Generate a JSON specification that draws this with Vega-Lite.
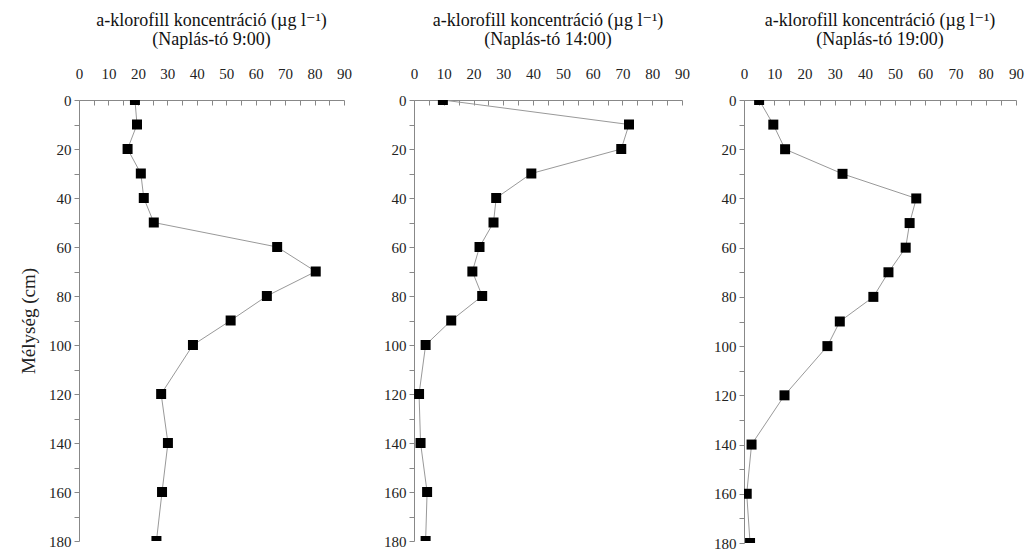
{
  "$schema": "https://vega.github.io/schema/vega-lite/v6.json",
  "background": "white",
  "padding": {"left": 19, "top": 12, "right": 5, "bottom": 5},
  "spacing": 70,
  "bounds": "flush",
  "datasets": {
    "p1": [
      {"depth": 0, "chl": 19}, {"depth": 10, "chl": 19.7}, {"depth": 20, "chl": 16.5},
      {"depth": 30, "chl": 21}, {"depth": 40, "chl": 22}, {"depth": 50, "chl": 25.4},
      {"depth": 60, "chl": 67.3}, {"depth": 70, "chl": 80.4}, {"depth": 80, "chl": 63.8},
      {"depth": 90, "chl": 51.5}, {"depth": 100, "chl": 38.7}, {"depth": 120, "chl": 27.9},
      {"depth": 140, "chl": 30.2}, {"depth": 160, "chl": 28.2}, {"depth": 180, "chl": 26.3}
    ],
    "p2": [
      {"depth": 0, "chl": 9.7}, {"depth": 10, "chl": 72.2}, {"depth": 20, "chl": 69.6},
      {"depth": 30, "chl": 39.4}, {"depth": 40, "chl": 27.6}, {"depth": 50, "chl": 26.7},
      {"depth": 60, "chl": 22}, {"depth": 70, "chl": 19.6}, {"depth": 80, "chl": 22.9},
      {"depth": 90, "chl": 12.5}, {"depth": 100, "chl": 3.9}, {"depth": 120, "chl": 1.7},
      {"depth": 140, "chl": 2.2}, {"depth": 160, "chl": 4.4}, {"depth": 180, "chl": 3.9}
    ],
    "p3": [
      {"depth": 0, "chl": 5}, {"depth": 10, "chl": 9.7}, {"depth": 20, "chl": 13.6},
      {"depth": 30, "chl": 32.6}, {"depth": 40, "chl": 57}, {"depth": 50, "chl": 54.8},
      {"depth": 60, "chl": 53.5}, {"depth": 70, "chl": 47.8}, {"depth": 80, "chl": 42.8},
      {"depth": 90, "chl": 31.7}, {"depth": 100, "chl": 27.6}, {"depth": 120, "chl": 13.4},
      {"depth": 140, "chl": 2.5}, {"depth": 160, "chl": 0.9}, {"depth": 180, "chl": 2}
    ]
  },
  "config": {
    "font": "Times New Roman, Liberation Serif, DejaVu Serif, serif",
    "view": {"stroke": null},
    "axis": {
      "grid": false,
      "domainColor": "#888888",
      "tickColor": "#888888",
      "labelColor": "#222222",
      "labelFont": "Times New Roman, Liberation Serif, DejaVu Serif, serif",
      "labelFontSize": 15,
      "titleFont": "Times New Roman, Liberation Serif, DejaVu Serif, serif",
      "titleFontWeight": "normal",
      "titleColor": "#222222"
    },
    "title": {
      "font": "Times New Roman, Liberation Serif, DejaVu Serif, serif",
      "fontSize": 18,
      "fontWeight": "normal",
      "color": "#111111",
      "anchor": "middle",
      "lineHeight": 19,
      "offset": 17
    }
  },
  "hconcat": [
    {
      "width": 265,
      "height": 441,
      "title": {"text": ["a-klorofill koncentráció (µg l⁻¹)", "(Naplás-tó 9:00)"]},
      "data": {"name": "p1"},
      "encoding": {
        "x": {"field": "chl", "type": "quantitative", "scale": {"domain": [0, 90], "nice": false},
          "axis": {"orient": "top", "title": null, "values": [0,5,10,15,20,25,30,35,40,45,50,55,60,65,70,75,80,85,90],
            "labelFont": "Times New Roman, Liberation Serif, serif",
            "labelExpr": "datum.value % 10 == 0 ? datum.label : ''", "tickSize": -5, "labelPadding": 24, "labelFlush": false}},
        "y": {"field": "depth", "type": "quantitative", "scale": {"domain": [0, 180], "reverse": true, "nice": false},
          "axis": {"title": "Mélység (cm)", "titleFont": "Times New Roman, Liberation Serif, serif", "titleFontSize": 19, "titlePadding": 10,
            "labelFont": "Times New Roman, Liberation Serif, serif",
            "values": [0,10,20,30,40,50,60,70,80,90,100,110,120,130,140,150,160,170,180],
            "labelExpr": "datum.value % 20 == 0 ? datum.label : ''", "tickSize": 5, "labelPadding": 3}}
      },
      "layer": [
        {"mark": {"type": "line", "color": "#999999", "strokeWidth": 1, "clip": true}, "encoding": {"order": {"field": "depth"}}},
        {"mark": {"type": "point", "shape": "square", "filled": true, "color": "#000000", "size": 100, "opacity": 1, "clip": true}}
      ]
    },
    {
      "spacing": 62,
      "bounds": "flush",
      "hconcat": [
        {
          "width": 268,
          "height": 441,
          "title": {"text": ["a-klorofill koncentráció (µg l⁻¹)", "(Naplás-tó 14:00)"]},
          "data": {"name": "p2"},
          "encoding": {
            "x": {"field": "chl", "type": "quantitative", "scale": {"domain": [0, 90], "nice": false},
              "axis": {"orient": "top", "title": null, "values": [0,5,10,15,20,25,30,35,40,45,50,55,60,65,70,75,80,85,90],
                "labelFont": "Times New Roman, Liberation Serif, serif",
                "labelExpr": "datum.value % 10 == 0 ? datum.label : ''", "tickSize": -5, "labelPadding": 24, "labelFlush": false}},
            "y": {"field": "depth", "type": "quantitative", "scale": {"domain": [0, 180], "reverse": true, "nice": false},
              "axis": {"title": null, "values": [0,10,20,30,40,50,60,70,80,90,100,110,120,130,140,150,160,170,180],
                "labelFont": "Times New Roman, Liberation Serif, serif",
                "labelExpr": "datum.value % 20 == 0 ? datum.label : ''", "tickSize": 5, "labelPadding": 3}}
          },
          "layer": [
            {"mark": {"type": "line", "color": "#999999", "strokeWidth": 1, "clip": true}, "encoding": {"order": {"field": "depth"}}},
            {"mark": {"type": "point", "shape": "square", "filled": true, "color": "#000000", "size": 100, "opacity": 1, "clip": true}}
          ]
        },
        {
          "width": 272,
          "height": 443,
          "title": {"text": ["a-klorofill koncentráció (µg l⁻¹)", "(Naplás-tó 19:00)"]},
          "data": {"name": "p3"},
          "encoding": {
            "x": {"field": "chl", "type": "quantitative", "scale": {"domain": [0, 90], "nice": false},
              "axis": {"orient": "top", "title": null, "values": [0,5,10,15,20,25,30,35,40,45,50,55,60,65,70,75,80,85,90],
                "labelFont": "Times New Roman, Liberation Serif, serif",
                "labelExpr": "datum.value % 10 == 0 ? datum.label : ''", "tickSize": -5, "labelPadding": 24, "labelFlush": false}},
            "y": {"field": "depth", "type": "quantitative", "scale": {"domain": [0, 180], "reverse": true, "nice": false},
              "axis": {"title": null, "values": [0,10,20,30,40,50,60,70,80,90,100,110,120,130,140,150,160,170,180],
                "labelFont": "Times New Roman, Liberation Serif, serif",
                "labelExpr": "datum.value % 20 == 0 ? datum.label : ''", "tickSize": 5, "labelPadding": 3}}
          },
          "layer": [
            {"mark": {"type": "line", "color": "#999999", "strokeWidth": 1, "clip": true}, "encoding": {"order": {"field": "depth"}}},
            {"mark": {"type": "point", "shape": "square", "filled": true, "color": "#000000", "size": 100, "opacity": 1, "clip": true}}
          ]
        }
      ]
    }
  ]
}
